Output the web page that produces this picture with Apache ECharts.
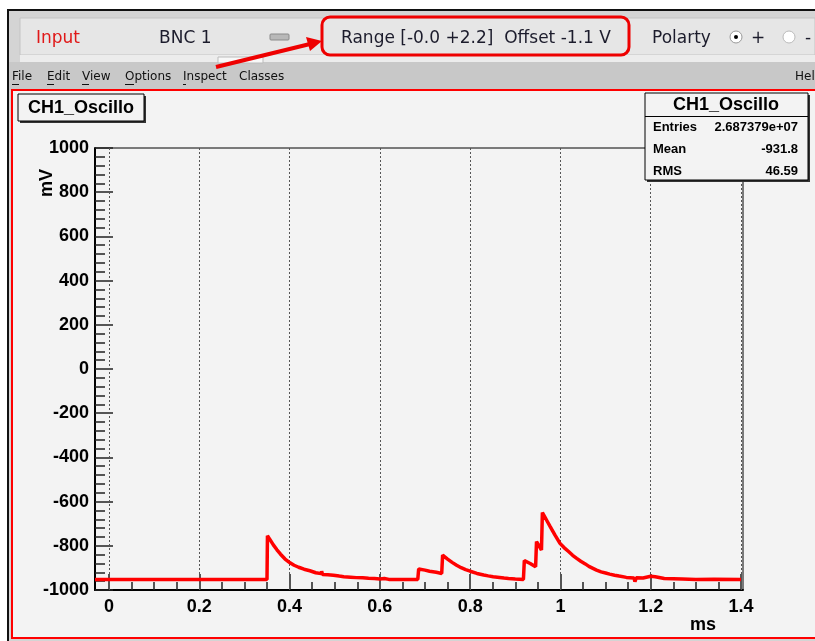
<!DOCTYPE html>
<html><head><meta charset="utf-8">
<script src="https://cdn.jsdelivr.net/npm/echarts@6/dist/echarts.min.js"></script>
<style>html,body{margin:0;padding:0;background:#fff}#c{width:815px;height:641px}</style>
</head><body><div id="c"></div>
<script>
// ---------- data ----------
const timeMs = [-0.031, 0.350, 0.351, 0.356, 0.364, 0.372, 0.380, 0.390, 0.401, 0.410, 0.420, 0.432, 0.445, 0.447, 0.458, 0.470, 0.471, 0.473, 0.485, 0.497, 0.510, 0.520, 0.535, 0.548, 0.562, 0.575, 0.588, 0.600, 0.610, 0.620, 0.684,
  0.686, 0.700, 0.710, 0.725, 0.737, 0.739, 0.743, 0.750, 0.760, 0.770, 0.780, 0.790, 0.800, 0.815, 0.830, 0.840, 0.851, 0.865, 0.875, 0.885, 0.900, 0.918,
  0.920, 0.933, 0.945, 0.947, 0.958, 0.960, 0.965, 0.971, 0.977, 0.988, 0.999, 1.008, 1.018, 1.027, 1.036, 1.045, 1.055, 1.063, 1.072, 1.080, 1.090, 1.100, 1.109, 1.120, 1.130, 1.146, 1.163, 1.165, 1.168, 1.183, 1.200, 1.210, 1.230, 1.250, 1.270, 1.300, 1.340, 1.400];
const voltageMv = [-952, -952, -755, -770, -796, -818, -838, -860, -877, -888, -897, -906, -913, -920, -922, -926, -915, -930, -931, -933, -937, -940, -942, -944, -945, -947, -948, -950, -948, -952, -952,
  -905, -910, -915, -920, -925, -842, -848, -860, -875, -888, -899, -908, -915, -925, -932, -936, -940, -943, -946, -948, -950, -952,
  -867, -880, -895, -781, -819, -650, -668, -690, -712, -752, -789, -808, -826, -843, -857, -870, -882, -893, -902, -910, -918, -923, -928, -933, -937, -943, -946, -962, -945, -946, -938, -940, -948, -949, -950, -952, -951, -952];
const xTickLabels = [0, 0.2, 0.4, 0.6, 0.8, 1, 1.2, 1.4];
const yTickLabels = [-1000, -800, -600, -400, -200, 0, 200, 400, 600, 800, 1000];
const xAxisTitle = 'ms';
const yAxisTitle = 'mV';
const histTitle = 'CH1_Oscillo';
const statsLabels = ['Entries', 'Mean', 'RMS'];
const statsValues = ['2.687379e+07', '-931.8', '46.59'];
const menuItems = ['File', 'Edit', 'View', 'Options', 'Inspect', 'Classes'];
const toolbarTexts = ['Input', 'BNC 1', 'Range [-0.0 +2.2]  Offset -1.1 V', 'Polarty', '+', '-'];

// ---------- layout (positions/styles) ----------
const menuX = [12, 47, 82, 125, 183, 239];
const X_MIN = -0.031, X_MAX = 1.4044;
const minorX = [];
for (let i = 1; i < 28; i++) { if (i % 4 !== 0) minorX.push(+(i * 0.05).toFixed(2)); }

const chart = echarts.init(document.getElementById('c'), null, {renderer: 'canvas'});
const axisFont = {fontFamily: '"Liberation Sans", Arial, sans-serif', fontWeight: 'bold', fontSize: 18, color: '#000'};
const gui = '"DejaVu Sans", sans-serif';
const T = (x, y, text, font, fill, extra) => ({type: 'text', x, y, z: 10,
  style: Object.assign({text, font, fill: fill || '#000', verticalAlign: 'middle', align: 'left'}, extra || {})});

const g = [];
// window background / borders
g.push({type: 'rect', shape: {x: 9, y: 11, width: 806, height: 630}, style: {fill: '#d4d4d4'}, z: 0});
g.push({type: 'rect', shape: {x: 7, y: 9, width: 808, height: 2}, style: {fill: '#111'}, z: 1});
g.push({type: 'rect', shape: {x: 7, y: 9, width: 2, height: 632}, style: {fill: '#111'}, z: 1});
// toolbar panel
g.push({type: 'rect', shape: {x: 20, y: 18, width: 795, height: 37}, style: {fill: '#e6e6e6', stroke: '#c4c4c4', lineWidth: 1}, z: 1});
g.push({type: 'rect', shape: {x: 20, y: 55, width: 795, height: 7}, style: {fill: '#ececec'}, z: 1});
g.push({type: 'rect', shape: {x: 218, y: 57, width: 45, height: 6}, style: {fill: '#f8f8f8', stroke: '#bbb', lineWidth: 1}, z: 2});
// menubar
g.push({type: 'rect', shape: {x: 9, y: 62, width: 806, height: 28}, style: {fill: '#c8c8c8'}, z: 1});
// canvas
g.push({type: 'rect', shape: {x: 12, y: 90, width: 806, height: 548}, style: {fill: '#f3f3f3', stroke: '#f00', lineWidth: 2}, z: 1});

// toolbar texts
g.push(T(36, 39, toolbarTexts[0], '17px ' + gui, '#e01818'));
g.push(T(159, 39, toolbarTexts[1], '17px ' + gui, '#1c1c2c'));
g.push({type: 'rect', shape: {x: 270, y: 34, width: 19, height: 6, r: 1}, style: {fill: '#b8b8b8', stroke: '#8a8a8a', lineWidth: 1}, z: 5});
g.push({type: 'rect', shape: {x: 322, y: 17, width: 307, height: 38, r: 8}, style: {fill: 'none', stroke: '#ee0000', lineWidth: 3}, z: 6});
g.push(T(341, 39, toolbarTexts[2], '17px ' + gui, '#1c1c2c'));
g.push(T(652, 39, toolbarTexts[3], '17px ' + gui, '#1c1c2c'));
g.push({type: 'circle', shape: {cx: 736, cy: 37, r: 6}, style: {fill: '#fff', stroke: '#999', lineWidth: 1}, z: 5});
g.push({type: 'circle', shape: {cx: 736, cy: 37, r: 2}, style: {fill: '#000'}, z: 6});
g.push(T(751, 39, toolbarTexts[4], '17px ' + gui, '#1c1c2c'));
g.push({type: 'circle', shape: {cx: 789, cy: 37, r: 6}, style: {fill: '#fff', stroke: '#bbb', lineWidth: 1}, z: 5});
g.push(T(805, 39, toolbarTexts[5], '17px ' + gui, '#1c1c2c'));
// arrow
g.push({type: 'line', shape: {x1: 216, y1: 67, x2: 310, y2: 44}, style: {stroke: '#ee0000', lineWidth: 4}, z: 7});
g.push({type: 'polygon', shape: {points: [[322, 41], [306, 37], [310, 51]]}, style: {fill: '#ee0000'}, z: 7});
// menu
menuItems.forEach((m, i) => {
  g.push(T(menuX[i], 77, m, '12px ' + gui, '#111'));
  if (i < 5) {
    const w = m === 'Inspect' ? 3 : (m[0] === 'O' ? 9 : 7);
    g.push({type: 'rect', shape: {x: menuX[i], y: 84, width: w, height: 1}, style: {fill: '#111'}, z: 5});
  }
});
g.push(T(795, 77, 'Hel', '12px ' + gui, '#111'));

// title box
g.push({type: 'rect', shape: {x: 20, y: 96, width: 126, height: 27}, style: {fill: '#333'}, z: 8});
g.push({type: 'rect', shape: {x: 18, y: 94, width: 126, height: 27}, style: {fill: '#f3f3f3', stroke: '#000', lineWidth: 1}, z: 9});
g.push(T(81, 108, histTitle, 'bold 18px "Liberation Sans", Arial', '#000', {align: 'center'}));
// stats box
g.push({type: 'rect', shape: {x: 647, y: 95, width: 163, height: 87}, style: {fill: '#333'}, z: 8});
g.push({type: 'rect', shape: {x: 645, y: 93, width: 163, height: 87}, style: {fill: '#f3f3f3', stroke: '#000', lineWidth: 1}, z: 9});
g.push({type: 'line', shape: {x1: 645, y1: 116.5, x2: 808, y2: 116.5}, style: {stroke: '#000', lineWidth: 1}, z: 10});
g.push(T(726, 105, histTitle, 'bold 18px "Liberation Sans", Arial', '#000', {align: 'center'}));
statsLabels.forEach((s, i) => {
  g.push(T(653, 127 + i * 22, s, 'bold 13px "Liberation Sans", Arial'));
  g.push(T(798, 127 + i * 22, statsValues[i], 'bold 13px "Liberation Sans", Arial', '#000', {align: 'right'}));
});
// axis titles
g.push(Object.assign(T(47, 183, yAxisTitle, 'bold 18px "Liberation Sans", Arial', '#000', {align: 'center'}), {rotation: Math.PI / 2}));
g.push(T(703, 625, xAxisTitle, 'bold 18px "Liberation Sans", Arial', '#000', {align: 'center'}));

const option = {
  animation: false,
  backgroundColor: '#fff',
  grid: {left: 95, right: 72, top: 148, bottom: 51, show: true, borderColor: '#000', borderWidth: 1, z: 3},
  xAxis: [{
    type: 'value', min: X_MIN, max: X_MAX, position: 'bottom', z: 4,
    axisLine: {show: true, onZero: false, lineStyle: {color: '#000', width: 2}},
    axisTick: {show: true, inside: true, length: 16, customValues: xTickLabels, lineStyle: {color: '#222', width: 1.5}},
    axisLabel: Object.assign({customValues: xTickLabels, margin: 8, formatter: v => String(v)}, axisFont),
    splitLine: {show: false}
  }, {
    type: 'value', min: X_MIN, max: X_MAX, position: 'bottom', z: 4,
    axisLine: {show: false, onZero: false},
    axisTick: {show: true, inside: true, length: 8, customValues: minorX, lineStyle: {color: '#222', width: 1.5}},
    axisLabel: {show: false}, splitLine: {show: false}
  }],
  yAxis: {
    type: 'value', min: -1000, max: 1000, interval: 200, z: 4,
    axisLine: {show: true, onZero: false, lineStyle: {color: '#000', width: 2}},
    axisTick: {show: true, inside: true, length: 18, lineStyle: {color: '#222', width: 1.5}},
    minorTick: {show: true, splitNumber: 5, length: 10, lineStyle: {color: '#222', width: 1.5}},
    axisLabel: Object.assign({margin: 6, customValues: yTickLabels, formatter: v => String(v)}, axisFont),
    splitLine: {show: false}
  },
  graphic: g,
  series: [{
    type: 'line', data: [], silent: true, z: 2,
    markLine: {silent: true, symbol: 'none', label: {show: false},
      lineStyle: {type: [2, 2], color: '#555', width: 1},
      data: xTickLabels.map(v => ({xAxis: v}))}
  }, {
    type: 'line', z: 5, showSymbol: false, symbol: 'none',
    data: timeMs.map((t, i) => [t, voltageMv[i]]),
    lineStyle: {color: '#ff0000', width: 3.5}
  }]
};
chart.setOption(option);
</script></body></html>
